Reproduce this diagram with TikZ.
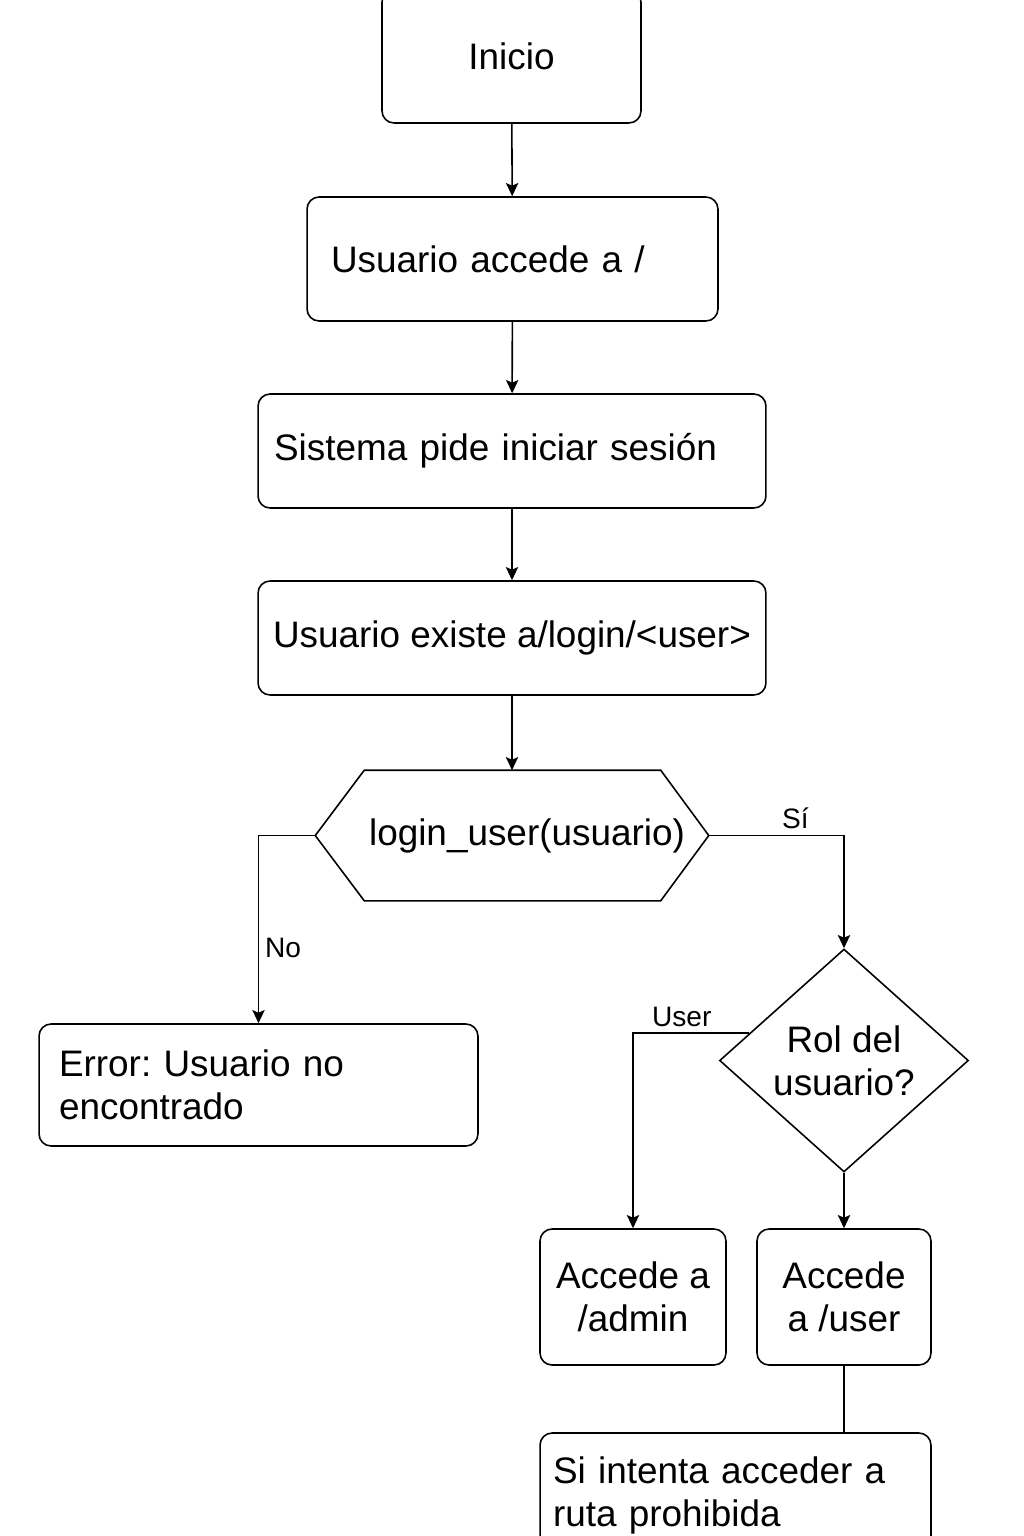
\documentclass[tikz,border=0pt]{standalone}
\usepackage{fontspec}
\setmainfont{Liberation Sans}
\frenchspacing
\usetikzlibrary{arrows.meta,calc,shapes.geometric}

\begin{document}
\begin{tikzpicture}[x=0.02cm,y=-0.02cm,line width=0.9pt,
  >={Stealth[length=7.5pt,width=7pt,inset=1.5pt]},
  font=\fontsize{21}{24.5}\selectfont,
  box/.style={draw,rounded corners=0.24cm,inner sep=0pt},
  lbl/.style={font=\fontsize{16}{19}\selectfont}]
  \fill[white] (0,0) rectangle (1024,1536);
  \useasboundingbox (0,0) rectangle (1024,1536);

  % main column
  \node[box,minimum width=5.18cm,minimum height=2.66cm] (inicio)
    at (511.5,56.5) {Inicio};
  \node[box,align=left,text width=7.26cm,inner xsep=0.48cm,
    minimum height=2.48cm] (acceso) at (512.5,259) {Usuario accede a /};
  \node[box,align=left,text width=9.52cm,inner xsep=0.32cm,
    minimum height=2.28cm] (pide) at (512,451) {Sistema pide iniciar sesión};
  \node[box,minimum width=10.16cm,minimum height=2.28cm] (existe)
    at (512,638) {Usuario existe a/login/<user>};

  % hexagon for the login check
  \node[minimum width=7.84cm,minimum height=2.58cm,inner sep=0pt] (hex)
    at (512,835.5) {};
  \draw (hex.west) -- ($(hex.north west)+(49,0)$)
    -- ($(hex.north east)+(-48,0)$) -- (hex.east)
    -- ($(hex.south east)+(-48,0)$) -- ($(hex.south west)+(49,0)$) -- cycle;
  \node (login) at ($(hex.center)+(15,0)$) {login\_user(usuario)};

  \node[box,align=left,text width=7.98cm,inner xsep=0.4cm,
    minimum height=2.44cm] (err) at (258.5,1085)
    {Error: Usuario no\\encontrado};

  \node[draw,diamond,aspect=1.12,inner sep=0pt,minimum width=4.98cm,
    minimum height=4.46cm,align=center] (rol) at (844,1060.5)
    {Rol del\\usuario?};

  \node[box,align=center,minimum width=3.72cm,minimum height=2.72cm] (admin)
    at (633,1297) {Accede a\\/admin};
  \node[box,align=center,minimum width=3.48cm,minimum height=2.72cm] (usr)
    at (844,1297) {Accede\\a /user};
  \node[box,align=left,text width=7.3cm,inner xsep=0.26cm,
    minimum height=2.48cm] (prohib) at (735.5,1495)
    {Si intenta acceder a\\ruta prohibida};

  % connectors
  \draw[->] (inicio) -- (acceso);
  \draw[->] (acceso) -- (pide);
  \draw[->] (pide) -- (existe);
  \draw[->] (existe) -- (hex.north);
  \draw[->] (hex.west) -| (err.north) node[lbl,pos=0.8,right] {No};
  \draw[->] (hex.east) -| (rol.north) node[lbl,pos=0.32,above] {Sí};
  \coordinate (rolout) at ($(rol.west)!0.243!(rol.north)$);
  \draw[->] (rolout) -| (admin.north) node[lbl,pos=0.29,above] {User};
  \draw[->] (rol.south) -- (usr.north);
  \draw (usr.south) -- (usr.south |- prohib.north);
\end{tikzpicture}
\end{document}
